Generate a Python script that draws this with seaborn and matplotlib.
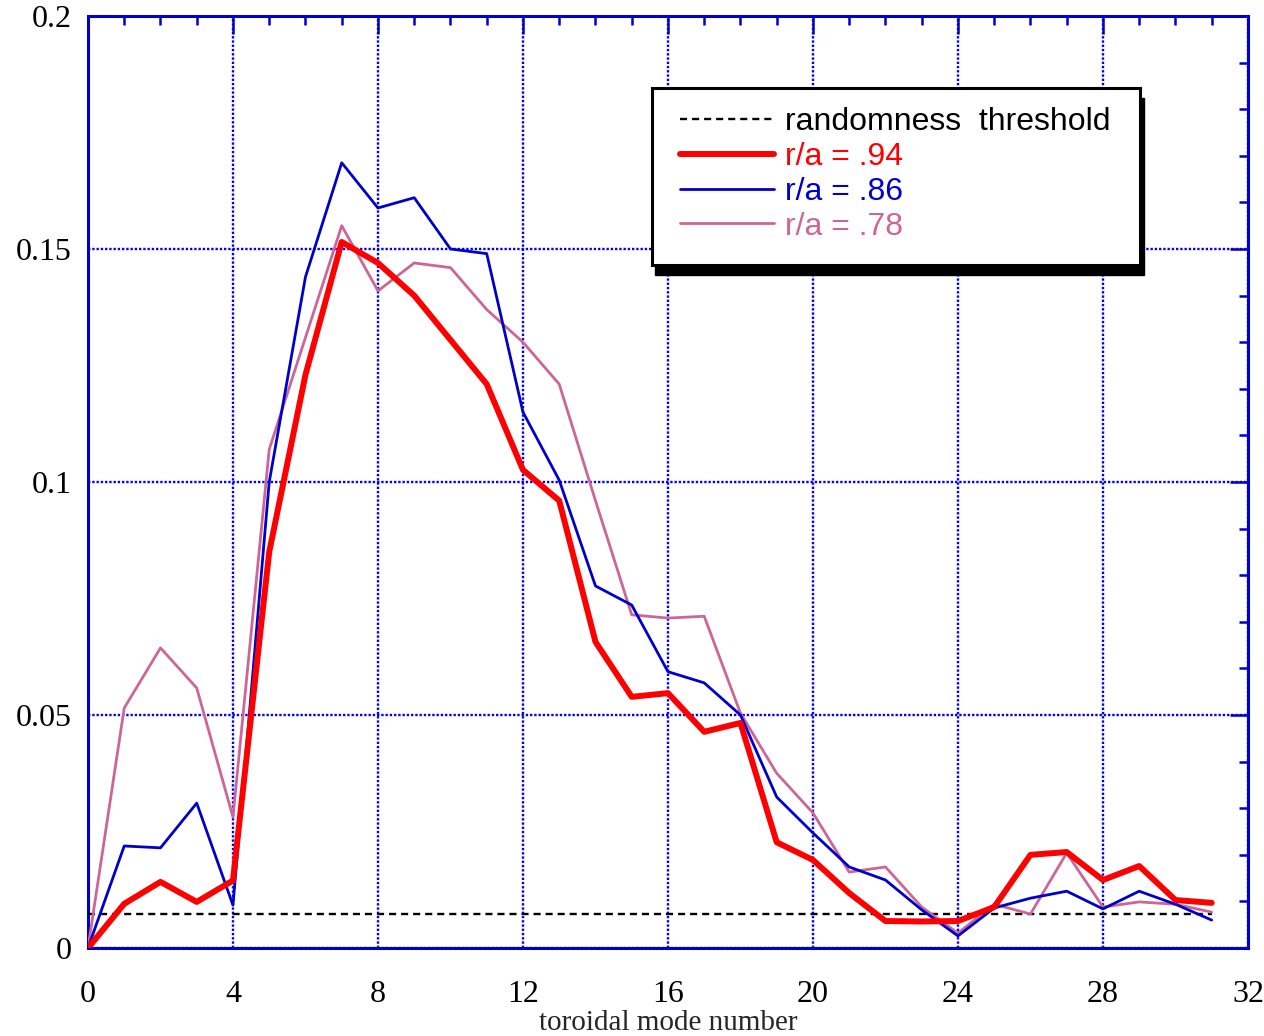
# toroidal mode spectrum, three radii + randomness threshold
import pandas as pd
import matplotlib.pyplot as plt
import seaborn as sns
import numpy as np
from matplotlib.patches import Rectangle
from matplotlib.lines import Line2D
from matplotlib.ticker import MultipleLocator

modes = list(range(32))

ra_94 = [0.0, 0.0095, 0.0142, 0.0099, 0.0145, 0.085, 0.123, 0.1515, 0.147, 0.140,
         0.1305, 0.121, 0.1026, 0.096, 0.0657, 0.0539, 0.0547, 0.0464, 0.0483, 0.0227,
         0.0189, 0.0118, 0.0058, 0.0057, 0.0058, 0.0088, 0.0200, 0.0206, 0.0146, 0.0176,
         0.0103, 0.0097]
ra_86 = [0.0, 0.0219, 0.0215, 0.0311, 0.0092, 0.100, 0.144, 0.1685, 0.1588, 0.161,
         0.150, 0.149, 0.115, 0.1004, 0.0777, 0.0736, 0.0593, 0.0569, 0.050, 0.0324,
         0.0247, 0.0174, 0.0146, 0.0082, 0.0026, 0.0086, 0.0107, 0.0122, 0.0084, 0.0122,
         0.0094, 0.0060]
ra_78 = [0.0, 0.0515, 0.0644, 0.0558, 0.0281, 0.107, 0.131, 0.155, 0.141, 0.147,
         0.146, 0.137, 0.130, 0.121, 0.096, 0.0715, 0.0708, 0.0712, 0.0504, 0.0375,
         0.029, 0.0163, 0.0174, 0.0088, 0.0032, 0.0094, 0.0073, 0.0204, 0.0088, 0.0099,
         0.0094, 0.0077]
threshold = 0.0073

labels = ["randomness  threshold", "r/a = .94", "r/a = .86", "r/a = .78"]
x_ticks = [0, 4, 8, 12, 16, 20, 24, 28, 32]
y_ticks = [0, 0.05, 0.1, 0.15, 0.2]
y_tick_labels = ["0", "0.05", "0.1", "0.15", "0.2"]

BLUE = "#0000cc"
RED = "#ff0000"
PINK = "#cc6699"


def main() -> None:
    sns.set_style("white")
    plt.rcParams["font.family"] = ["Liberation Serif", "DejaVu Serif"]

    fig, ax = plt.subplots(figsize=(12.64, 10.36), dpi=100)
    fig.subplots_adjust(left=0.0696, right=0.9873, top=0.9846, bottom=0.0849)

    df = pd.DataFrame({"n": modes, ".94": ra_94, ".86": ra_86, ".78": ra_78,
                       "thr": [threshold] * len(modes)})

    sns.lineplot(data=df, x="n", y="thr", ax=ax, color="black", lw=1.7,
                 zorder=3).lines[-1].set_dashes([3.0, 2.1])
    sns.lineplot(data=df, x="n", y=".78", ax=ax, color=PINK, lw=2.0, zorder=3)
    sns.lineplot(data=df, x="n", y=".86", ax=ax, color=BLUE, lw=2.0, zorder=4)
    sns.lineplot(data=df, x="n", y=".94", ax=ax, color=RED, lw=4.3, zorder=5)

    ax.set_xlim(0, 32)
    ax.set_ylim(0, 0.2)
    ax.set_xticks(x_ticks)
    ax.set_yticks(y_ticks)
    ax.set_yticklabels(y_tick_labels)
    ax.xaxis.set_minor_locator(MultipleLocator(1))
    ax.yaxis.set_minor_locator(MultipleLocator(0.01))
    ax.tick_params(which="both", direction="in", top=True, right=True,
                   color=BLUE, width=1.8, labelsize=23, labelcolor="black")
    ax.tick_params(which="major", length=13)
    ax.tick_params(which="minor", length=6.5)
    ax.tick_params(axis="x", which="major", pad=23)
    ax.tick_params(axis="y", which="major", pad=12)

    ax.grid(True, which="major", color="#0000ff", linestyle=(0, (1, 0.8)), lw=1.7)
    for s in ax.spines.values():
        s.set_color(BLUE)
        s.set_linewidth(2.2)

    ax.set_xlabel("toroidal mode number", fontsize=21)
    ax.xaxis.set_label_coords(0.5, -0.066)
    ax.set_ylabel("")

    # legend box with drop shadow
    ax.add_patch(Rectangle((0.489, 0.722), 0.421, 0.19, transform=ax.transAxes,
                           facecolor="black", edgecolor="black", zorder=8))
    ax.add_patch(Rectangle((0.486, 0.733), 0.421, 0.19, transform=ax.transAxes,
                           facecolor="white", edgecolor="black", lw=2.2, zorder=9))

    handles = [
        Line2D([], [], color="black", lw=1.7, dashes=[3.0, 2.1]),
        Line2D([], [], color=RED, lw=4.3),
        Line2D([], [], color=BLUE, lw=2.0),
        Line2D([], [], color=PINK, lw=2.0),
    ]
    leg = ax.legend(handles, labels, loc="upper left", bbox_to_anchor=(0.51, 0.902),
                    frameon=False, borderpad=0, borderaxespad=0,
                    handlelength=2.95, handletextpad=0.35, labelspacing=0.15,
                    prop={"family": ["Liberation Sans", "DejaVu Sans"], "size": 23},
                    labelcolor=["black", RED, BLUE, PINK])
    leg.set_zorder(10)

    plt.savefig("out.png", dpi=100)


if __name__ == "__main__":
    main()
